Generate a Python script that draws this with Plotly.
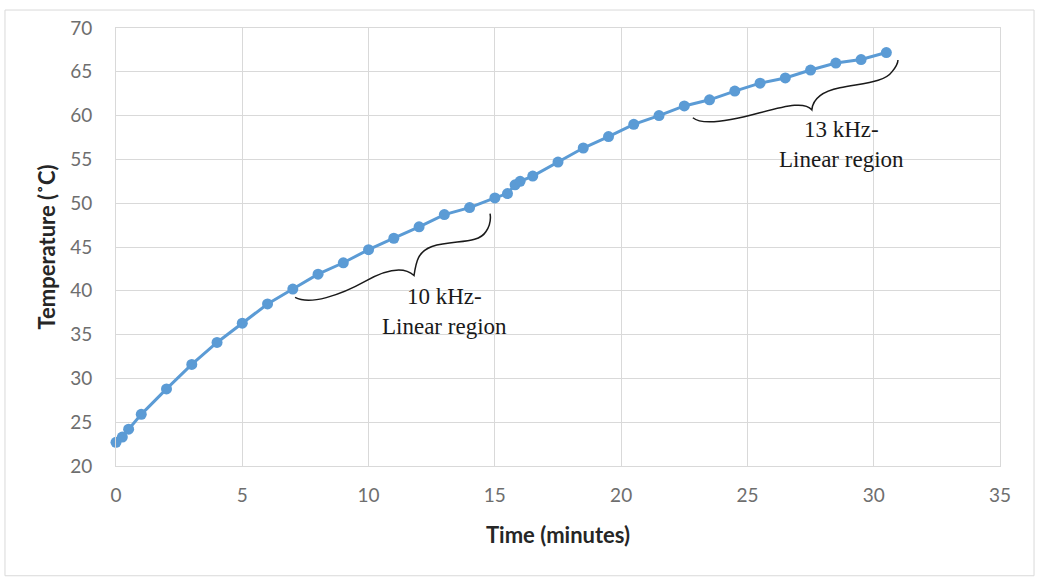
import plotly.graph_objects as go

time_min = [0, 0.25, 0.5, 1, 2, 3, 4, 5, 6, 7, 8, 9, 10, 11, 12, 13, 14, 15,
            15.5, 15.8, 16, 16.5, 17.5, 18.5, 19.5, 20.5, 21.5, 22.5, 23.5,
            24.5, 25.5, 26.5, 27.5, 28.5, 29.5, 30.5]
temperature = [22.7, 23.3, 24.2, 25.9, 28.8, 31.6, 34.1, 36.3, 38.5, 40.2, 41.9,
               43.2, 44.7, 46.0, 47.3, 48.7, 49.5, 50.6, 51.1, 52.1, 52.5, 53.1,
               54.7, 56.3, 57.6, 59.0, 60.0, 61.1, 61.8, 62.8, 63.7, 64.3, 65.2,
               66.0, 66.4, 67.2]

x_ticks = [0, 5, 10, 15, 20, 25, 30, 35]
y_ticks = [20, 25, 30, 35, 40, 45, 50, 55, 60, 65, 70]

BLUE = "#5b9bd5"
GRID = "#d9d9d9"

fig = go.Figure()
fig.add_trace(go.Scatter(
    x=time_min, y=temperature, mode="lines+markers",
    line=dict(color=BLUE, width=3),
    marker=dict(color=BLUE, size=11),
    cliponaxis=False,
    showlegend=False,
))

brace1 = ("M 7.09,39.25 C 7.68,38.34 8.87,39.48 9.86,41.07 "
          "C 10.85,42.67 11.44,42.67 11.80,41.75 "
          "C 11.88,43.35 11.96,44.49 12.51,45.06 "
          "C 13.42,45.85 14.33,45.28 14.65,46.77 "
          "C 14.81,47.45 14.85,48.13 14.81,48.82")
brace2 = ("M 22.84,59.75 C 23.12,59.07 23.91,59.07 25.49,60.32 "
          "C 26.68,61.23 27.28,61.56 27.55,60.66 "
          "C 27.59,61.79 27.87,62.71 28.66,63.17 "
          "C 29.65,63.74 30.44,63.85 30.72,64.99 "
          "C 30.88,65.56 30.96,65.90 30.96,66.36")

shapes = [
    dict(type="path", path=brace1, xref="x", yref="y", line=dict(color="#1a1a1a", width=1.5)),
    dict(type="path", path=brace2, xref="x", yref="y", line=dict(color="#1a1a1a", width=1.5)),
    dict(type="rect", xref="paper", yref="paper", x0=-0.1256, x1=1.0385, y0=-0.2506, y1=1.041,
         line=dict(color=GRID, width=1), layer="below"),
]

annotations = [
    dict(x=13.02, y=37.65, xref="x", yref="y", text="10 kHz-<br>Linear region",
         showarrow=False, align="center",
         font=dict(family="Liberation Serif", size=23, color="#1a1a1a")),
    dict(x=28.74, y=56.67, xref="x", yref="y", text="13 kHz-<br>Linear region",
         showarrow=False, align="center",
         font=dict(family="Liberation Serif", size=23, color="#1a1a1a")),
]

axis_common = dict(
    showgrid=True, gridcolor=GRID, gridwidth=1,
    showline=True, linecolor=GRID, linewidth=1, mirror=True,
    zeroline=False, ticks="",
    tickfont=dict(family="Lato", size=19, color="#6e6e6e"),
)

fig.update_layout(
    width=1039, height=579,
    margin=dict(l=116, r=39, t=28, b=113),
    paper_bgcolor="white", plot_bgcolor="white",
    xaxis=dict(range=[0, 35], tickvals=x_ticks, ticklabelstandoff=12,
               title=dict(text="<b>Time (minutes)</b>", standoff=22,
                          font=dict(family="Lato", size=22, color="#262626")),
               **axis_common),
    yaxis=dict(range=[20, 70], tickvals=y_ticks, ticklabelstandoff=19,
               title=dict(text="<b>Temperature (˚C)</b>", standoff=8,
                          font=dict(family="Lato", size=22, color="#262626")),
               **axis_common),
    shapes=shapes,
    annotations=annotations,
)

fig.write_html("out.html")
